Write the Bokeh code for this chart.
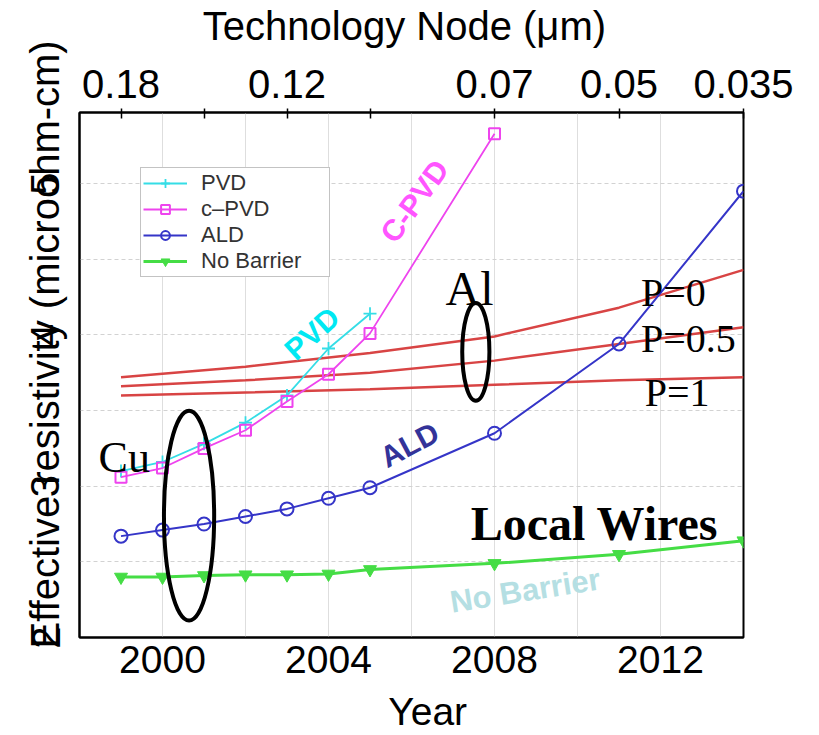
import math
from bokeh.plotting import figure
from bokeh.models import (Range1d, LinearAxis, FixedTicker, Legend, LegendItem, Label)
from bokeh.embed import file_html
from bokeh.resources import INLINE

# ---------------- data ----------------
years_pvd = [1999, 2000, 2001, 2002, 2003, 2004, 2005]
pvd = [3.10, 3.16, 3.28, 3.42, 3.60, 3.91, 4.14]

years_cpvd = [1999, 2000, 2001, 2002, 2003, 2004, 2005, 2008]
cpvd = [3.06, 3.12, 3.25, 3.37, 3.56, 3.74, 4.01, 5.33]

years_long = [1999, 2000, 2001, 2002, 2003, 2004, 2005, 2008, 2011, 2014]
ald = [2.67, 2.71, 2.75, 2.80, 2.85, 2.92, 2.99, 3.35, 3.94, 4.95]
no_barrier = [2.40, 2.40, 2.41, 2.415, 2.415, 2.42, 2.45, 2.49, 2.55, 2.64]

years_al = [1999, 2002, 2005, 2008, 2011, 2014]
al_p0 = [3.72, 3.79, 3.88, 3.99, 4.18, 4.43]
al_p05 = [3.66, 3.70, 3.75, 3.83, 3.94, 4.05]
al_p1 = [3.60, 3.62, 3.64, 3.67, 3.70, 3.72]

year_ticks = [2000, 2004, 2008, 2012]
y_ticks = [2, 3, 4, 5]
node_years = [1999, 2003, 2008, 2011, 2014]
node_labels = ["0.18", "0.12", "0.07", "0.05", "0.035"]
node_tick_marks = [1999, 2001, 2003, 2005, 2008, 2011, 2014]

# axis titles, placed along each axis as in the original figure
x_title, x_title_at = "Year", 2006.39
top_title, top_title_at = "Technology Node (\u03bcm)", 2005.83
y_title, y_title_at = "Effective resistivity (microohm-cm)", 3.937

# ellipse annotations (centre x, centre y, width, height) in data units
cu_ellipse = [2000.64, 2.805, 1.21, 1.386]
al_ellipse = [2007.55, 3.888, 0.655, 0.647]

SANS = "Liberation Sans"
SERIF = "Liberation Serif"

C_PVD = "#35dde6"
C_CPVD = "#ee44ee"
C_ALD = "#3535c8"
C_NB = "#45dd45"
C_RED = "#d84444"

p = figure(width=819, height=735,
           x_range=Range1d(1998, 2014), y_range=Range1d(2, 5.47),
           output_backend="svg", toolbar_location=None,
           min_border_left=79, min_border_right=76,
           min_border_top=112, min_border_bottom=98,
           background_fill_color="white", border_fill_color="white")

p.outline_line_color = "black"
p.outline_line_width = 2

# grids
p.xgrid.ticker = FixedTicker(ticks=[2000, 2002, 2004, 2006, 2008, 2010, 2012])
p.ygrid.ticker = FixedTicker(ticks=[2.5, 3, 3.5, 4, 4.5, 5])
p.xgrid.grid_line_color = "#dedede"
p.ygrid.grid_line_color = "#d2d2d2"
p.ygrid.grid_line_dash = "4 3"

# bottom axis (year ticks + title on a second line)
xa = p.xaxis[0]
xa.ticker = FixedTicker(ticks=year_ticks + [x_title_at])
xa.major_label_overrides = {x_title_at: "\n" + x_title}
xa.major_label_text_font = SANS
xa.major_label_text_font_size = "39px"
xa.major_label_text_color = "black"
xa.major_label_text_line_height = 1.22
xa.major_label_standoff = 0
xa.major_tick_in = 0
xa.major_tick_out = 0
xa.minor_tick_in = 0
xa.minor_tick_out = 0
xa.axis_line_color = "black"
xa.axis_line_width = 2

# left axis (vertical labels, title sharing the same column)
ya = p.yaxis[0]
ya.ticker = FixedTicker(ticks=y_ticks + [y_title_at])
ya.major_label_overrides = {y_title_at: y_title}
ya.major_label_orientation = "vertical"
ya.major_label_text_font = SANS
ya.major_label_text_font_size = "40px"
ya.major_label_text_color = "black"
ya.major_label_standoff = 12
ya.major_tick_in = 0
ya.major_tick_out = 0
ya.minor_tick_in = 0
ya.minor_tick_out = 0
ya.axis_line_color = "black"
ya.axis_line_width = 2

# top axis (technology node)
top = LinearAxis(ticker=FixedTicker(ticks=node_years + [top_title_at],
                                    minor_ticks=node_tick_marks))
ov = {yr: lab for yr, lab in zip(node_years, node_labels)}
ov[top_title_at] = top_title + "\n"
top.major_label_overrides = ov
top.major_label_text_font = SANS
top.major_label_text_font_size = "40px"
top.major_label_text_color = "black"
top.major_label_text_line_height = 1.3
top.major_label_standoff = 3
top.major_tick_in = 0
top.major_tick_out = 0
top.minor_tick_in = 6
top.minor_tick_out = 4
top.minor_tick_line_width = 1.5
top.minor_tick_line_color = "black"
top.axis_line_color = "black"
top.axis_line_width = 2
p.add_layout(top, "above")

# ---------------- series ----------------
for ys in (al_p0, al_p05, al_p1):
    p.line(years_al, ys, line_color=C_RED, line_width=2.5)

nb_l = p.line(years_long, no_barrier, line_color=C_NB, line_width=3)
nb_s = p.scatter(years_long, no_barrier, marker="inverted_triangle", size=13,
                 fill_color=C_NB, line_color=C_NB)

ald_l = p.line(years_long, ald, line_color=C_ALD, line_width=2)
ald_s = p.scatter(years_long, ald, marker="circle", size=13,
                  fill_color=None, line_color=C_ALD, line_width=2)

pvd_l = p.line(years_pvd, pvd, line_color=C_PVD, line_width=1.8)
pvd_s = p.scatter(years_pvd, pvd, marker="cross", size=13,
                  line_color=C_PVD, line_width=1.8)

cpvd_l = p.line(years_cpvd, cpvd, line_color=C_CPVD, line_width=1.8)
cpvd_s = p.scatter(years_cpvd, cpvd, marker="square", size=11,
                   fill_color=None, line_color=C_CPVD, line_width=2)

p.ellipse(x=[cu_ellipse[0]], y=[cu_ellipse[1]], width=[cu_ellipse[2]], height=[cu_ellipse[3]],
          fill_color=None, line_color="black", line_width=4)
p.ellipse(x=[al_ellipse[0]], y=[al_ellipse[1]], width=[al_ellipse[2]], height=[al_ellipse[3]],
          fill_color=None, line_color="black", line_width=4)

# ---------------- annotations ----------------
def lab(x, y, text, size, color, font=SANS, style="bold", angle=0.0,
        align="center", baseline="middle"):
    p.add_layout(Label(x=x, y=y, text=text, text_font=font, text_font_size=size,
                       text_font_style=style, text_color=color,
                       angle=math.radians(angle), text_align=align,
                       text_baseline=baseline))

lab(2003.6, 4.01, "PVD", "30px", "#00e8f2", angle=42)
lab(2006.07, 4.885, "C-PVD", "30px", "#ff55ff", angle=54)
lab(2005.95, 3.274, "ALD", "30px", "#333399", angle=28)
lab(2008.74, 2.31, "No Barrier", "31px", "#b5dfe3", angle=9)
lab(2010.41, 2.752, "Local Wires", "48px", "black", font=SERIF, baseline="alphabetic")
lab(1998.46, 3.188, "Cu", "44px", "black", font=SERIF, style="normal",
    align="left", baseline="alphabetic")
lab(2006.82, 4.31, "Al", "48px", "black", font=SERIF, style="normal",
    align="left", baseline="alphabetic")
lab(2011.53, 4.277, "P=0", "40px", "black", font=SERIF, style="normal",
    align="left", baseline="alphabetic")
lab(2011.53, 3.974, "P=0.5", "40px", "black", font=SERIF, style="normal",
    align="left", baseline="alphabetic")
lab(2011.62, 3.617, "P=1", "40px", "black", font=SERIF, style="normal",
    align="left", baseline="alphabetic")

# ---------------- legend ----------------
legend = Legend(items=[
    LegendItem(label="PVD", renderers=[pvd_l, pvd_s]),
    LegendItem(label="c\u2013PVD", renderers=[cpvd_l, cpvd_s]),
    LegendItem(label="ALD", renderers=[ald_l, ald_s]),
    LegendItem(label="No Barrier", renderers=[nb_l, nb_s]),
], location=(61, 360))
legend.label_text_font = SANS
legend.label_text_font_size = "22px"
legend.label_text_color = "#333333"
legend.label_height = 22
legend.label_width = 126
legend.glyph_height = 22
legend.glyph_width = 44
legend.label_standoff = 14
legend.spacing = 0
legend.padding = 2
legend.margin = 0
legend.border_line_color = "#888888"
legend.border_line_width = 1
legend.background_fill_alpha = 1
p.add_layout(legend)

open("out.html", "w").write(file_html(p, INLINE))
